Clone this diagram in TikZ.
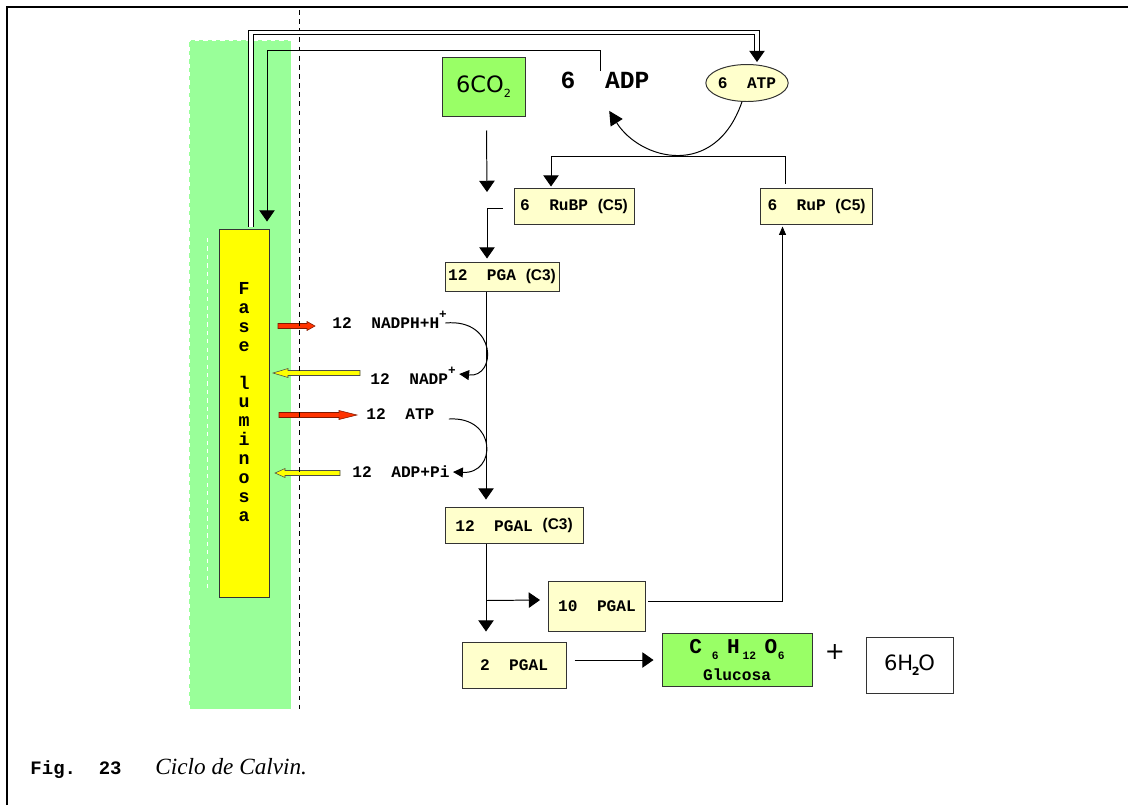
\documentclass[tikz,border=0pt]{standalone}
\usepackage{fontspec}
\setmainfont{Liberation Serif}
\setmonofont{Liberation Mono}
\newfontfamily\sansdv{DejaVu Sans}
\newfontfamily\sansli{Liberation Sans}
\usetikzlibrary{arrows.meta,calc,shapes.geometric}
\definecolor{crema}{HTML}{FFFFCC}
\definecolor{verdecaja}{HTML}{99FF66}
\definecolor{verdefondo}{HTML}{99FF99}
\definecolor{amarillo}{HTML}{FFFF00}
\definecolor{rojo}{HTML}{FF3300}
\definecolor{borde}{HTML}{333333}
\newdimen\px \px=0.025cm
\newcommand\baja[2][8]{\raisebox{-4pt}{\fontsize{#1}{#1}\selectfont #2}}
\newcommand\cinco[1]{{\sansli\bfseries\fontsize{11}{11}\selectfont (#1)}}

\begin{document}
\begin{tikzpicture}[
  x=0.025cm,
  y=-0.025cm,
  line width=0.7pt,
  every node/.style={inner sep=0pt},
  tam/.style 2 args={minimum width={#1*\px}, minimum height={#2*\px}},
  caja/.style={draw=borde, fill=crema, font=\ttfamily\bfseries\fontsize{11.5}{13}\selectfont},
  etiq/.style={anchor=west, font=\ttfamily\bfseries\fontsize{11.5}{13}\selectfont},
  flujo/.style={-{Triangle[width=11pt,length=8pt]}},
  fino/.style={-{Triangle[width=5pt,length=6pt]}},
  curva/.style={-{Triangle[width=7pt,length=7pt]}},
  flecharoja/.style={fill=rojo, draw=rojo!50!black, line width=0.4pt},
  flechaamarilla/.style={fill=amarillo, draw=black!70, line width=0.4pt}
]
  \useasboundingbox (0,0) rectangle (1128,805);

  % marco
  \draw[line width=1pt] (7,805) -- (7,7) -- (1128,7);

  % franja de la fase luminosa
  \fill[verdefondo] (189,40) rectangle (291,709);
  \draw[white, dashed, line width=0.8pt] (189,709) -- (189,40) -- (291,40);
  \draw[white, dashed] (207,238) -- (207,590);

  \node[caja, fill=amarillo, tam={50}{368}] (fase) at (244,413) {};
  \node[align=center, font=\ttfamily\bfseries\fontsize{13}{13.4}\selectfont] (faselbl) at (244,402)
    {F\\a\\s\\e\\[13.4pt]l\\u\\m\\i\\n\\o\\s\\a};

  % flechas gruesas
  \filldraw[flecharoja] (278,323.5) -- (307,323.5) -- (307,321.5) -- (315,326)
    -- (307,330.5) -- (307,328.5) -- (278,328.5) -- cycle;
  \filldraw[flechaamarilla] (360,370.5) -- (288,370.5) -- (288,368.5) -- (273,373)
    -- (288,377.5) -- (288,375.5) -- (360,375.5) -- cycle;
  \filldraw[flecharoja] (279,412.5) -- (339,412.5) -- (339,410.5) -- (357,415)
    -- (339,419.5) -- (339,417.5) -- (279,417.5) -- cycle;
  \filldraw[flechaamarilla] (340,470.5) -- (285,470.5) -- (285,468.5) -- (275,473)
    -- (285,477.5) -- (285,475.5) -- (340,475.5) -- cycle;

  \draw[dash pattern=on 3.5pt off 3pt, line width=0.6pt] (299,10) -- (299,709);

  % ciclo
  \node[caja, fill=verdecaja, tam={83}{59}, font=\sansdv\fontsize{16}{16}\selectfont] (co2) at (483.5,86.5) {6CO\baja{2}};
  \node[font=\ttfamily\bfseries\fontsize{17.5}{20}\selectfont] (adp) at (605,80) {6\ \ ADP};
  \node[caja, ellipse, tam={77}{37}] (atp) at (747,83) {6\ \ ATP};
  \node[caja, tam={120}{36}] (rubp) at (574,206) {6\ \ RuBP \cinco{C5}};
  \node[caja, tam={112}{36}] (rup) at (816.5,206) {6\ \ RuP \cinco{C5}};
  \node[caja, tam={114}{29}] (pga) at (502,276.5) {12\ \ PGA \cinco{C3}};
  \node[caja, tam={138}{36}] (pgal) at (514,525) {12\ \ PGAL \raisebox{2pt}{\cinco{C3}}};
  \node[caja, tam={97}{50}] (diez) at (597,606) {10\ \ PGAL};
  \node[caja, tam={104}{46}] (dos) at (514,665) {2\ \ PGAL};
  \node[caja, fill=verdecaja, tam={150}{53}, align=center,
        font=\ttfamily\bfseries\fontsize{11.5}{19}\selectfont] (glucosa) at (737,660)
    {{\fontsize{15}{15}\selectfont C\hspace{7pt}\baja{6}\hspace{6pt}H\hspace{2pt}\baja{12}\hspace{6pt}O\hspace{0.5pt}\baja{6}}\\Glucosa};
  \node[font=\sansdv\fontsize{17}{17}\selectfont] (mas) at (835,652) {+};
  \node[caja, fill=white, tam={87}{56}, font=\sansdv\fontsize{15}{15}\selectfont] (agua) at (909.5,665)
    {6H\hspace{-1pt}\baja{\bfseries 2}\hspace{-1pt}O};

  % etiquetas de la fase luminosa
  \node[etiq] (nadph) at (332,320) {12\ \ NADPH+H\raisebox{1.2ex}{\fontsize{9}{9}\selectfont +}};
  \node[etiq] (nadp) at (370,376) {12\ \ NADP\raisebox{1.2ex}{\fontsize{9}{9}\selectfont +}};
  \node[etiq] (atpdoce) at (366,414) {12\ \ ATP};
  \node[etiq] (adppi) at (352,472) {12\ \ ADP+Pi};

  % conexiones
  \draw[double, double distance=2.2pt, line width=0.8pt, -{Triangle[width=11pt,length=8pt]}]
    ($(fase.north)+(7,-2)$) -- ++(0,-194) -| ($(atp.north)+(10,-2)$);
  \draw[flujo] ($(adp.north west)+(40,0)$) -- ++(0,-21) -| ($(fase.north)+(23,-7)$);
  \draw[-{Triangle[width=10pt,length=10pt]}]
    (atp.255) .. controls (715,180) and (640,160) .. ($(adp.south west)+(49,22)$);

  \coordinate (entrada) at (487,192);
  \draw[flujo] ($(co2.south)+(3,14)$) -- (entrada);
  \draw[flujo] ($(rubp.west)+(-11,2)$) -| ($(pga.north)+(-15,-3)$);
  \draw[flujo] ($(pga.south)+(-16,0)$) -- ($(pgal.north)+(-28,-7)$);
  \draw[flujo] ($(pgal.south)+(-28,0)$) -- ($(dos.north)+(-28,-10)$);
  \draw[flujo] ($(pgal.south)+(-28,57)$) -- ($(diez.west)+(-8,-6)$);
  \draw[fino] ($(diez.east)+(2,-5)$) -| ($(rup.south)+(-34,2)$);
  \draw[flujo] ($(rup.north)+(-31,-4)$) -- ++(0,-27) -| ($(rubp.north)+(-23,-1)$);
  \draw[flujo] ($(dos.east)+(8,-5)$) -- ($(glucosa.west)+(-8,0)$);

  \draw[curva] ($(nadph.east)+(-2,3)$) .. controls (497,318) and (497,378) .. ($(nadp.east)+(3,-2)$);
  \draw[curva] ($(atpdoce.east)+(14,5)$) .. controls (497,416) and (497,474) .. ($(adppi.east)+(3,0)$);

  % pie de figura
  \node[anchor=base west, font=\ttfamily\bfseries\fontsize{13.5}{16}\selectfont] (fig) at (30,774) {Fig.\ \ 23};
  \node[anchor=base west, font=\itshape\fontsize{16.5}{19}\selectfont] (titulo) at (155,774) {Ciclo de Calvin.};
\end{tikzpicture}
\end{document}
